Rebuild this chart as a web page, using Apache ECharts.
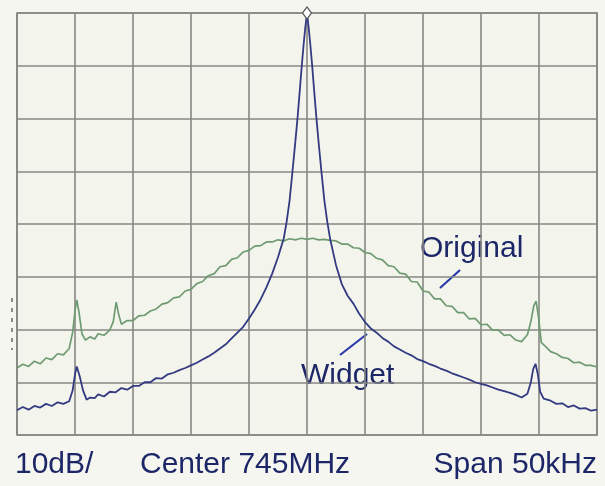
<!DOCTYPE html>
<html>
<head>
<meta charset="utf-8">
<style>
  html, body { margin: 0; padding: 0; background: #f5f6f0; }
  #chart { width: 605px; height: 486px; }
</style>
<script src="https://cdn.jsdelivr.net/npm/echarts@6/dist/echarts.min.js"></script>
</head>
<body>
<div id="chart"></div>
<script>
// Spectrum analyser screen: 10 dB per division, 5 kHz per division around 745 MHz.
const freqRange = [-25, 25];     // kHz offset from centre
const levelRange = [-80, 0];     // dB relative to reference level
const freqStep = 5;
const levelStep = 10;

// Trace labels and screen annotations
const labelOriginal = 'Original';
const labelWidget = 'Widget';
const footerScale = '10dB/';
const footerCenter = 'Center 745MHz';
const footerSpan = 'Span 50kHz';

// Original trace: [kHz offset, dB]
const originalTrace = [
  [-25, -67.3], [-24.5, -66.6], [-24, -67.0], [-23.5, -66.0], [-23, -66.5], [-22.5, -65.4],
  [-22, -65.7], [-21.5, -64.6], [-21, -64.8], [-20.5, -63.6], [-20.2, -60.5], [-20.0, -56.5],
  [-19.85, -54.4], [-19.65, -56.8], [-19.4, -60.8], [-19.1, -62.0], [-18.7, -61.4], [-18.3, -61.8],
  [-18, -60.8], [-17.5, -61.1], [-17, -60.1], [-16.7, -58.5], [-16.45, -54.8], [-16.25, -57.0],
  [-16.0, -59.0], [-15.5, -58.3], [-15, -58.3], [-14.5, -57.4], [-14, -57.3], [-13.5, -56.5],
  [-13, -56.1], [-12.5, -55.2], [-12, -54.9], [-11.5, -54.0], [-11, -53.8], [-10.5, -52.7],
  [-10, -52.4], [-9.5, -51.3], [-9, -50.9], [-8.5, -49.8], [-8, -49.4], [-7.5, -48.1],
  [-7, -47.9], [-6.5, -46.7], [-6, -46.4], [-5.5, -45.3], [-5, -45.0], [-4.5, -44.2],
  [-4, -44.1], [-3.5, -43.4], [-3, -43.4], [-2.5, -43.0], [-2, -43.2], [-1.5, -42.8],
  [-1, -43.0], [-0.5, -42.7], [0, -42.9], [0.5, -42.7], [1, -43.0], [1.5, -42.9],
  [2, -43.1], [2.5, -43.2], [3, -43.8], [3.5, -43.8], [4, -44.5], [4.5, -44.6],
  [5, -45.4], [5.5, -45.6], [6, -46.5], [6.5, -46.8], [7, -47.9], [7.5, -48.1],
  [8, -49.3], [8.5, -49.5], [9, -50.9], [9.5, -51.0], [10, -52.7], [10.5, -52.9],
  [11, -54.2], [11.5, -54.2], [12, -55.5], [12.5, -55.6], [13, -56.8], [13.5, -56.8],
  [14, -58.0], [14.5, -57.9], [15, -59.1], [15.5, -59.0], [16, -60.1], [16.5, -60.1],
  [17, -61.1], [17.5, -61.0], [18, -62.0], [18.5, -62.3], [19.0, -61.0], [19.3, -58.5],
  [19.55, -55.5], [19.75, -54.6], [19.95, -57.5], [20.2, -62.5], [20.6, -63.3], [21, -64.2],
  [21.5, -64.6], [22, -65.3], [22.5, -65.5], [23, -66.3], [23.5, -66.2], [24, -66.8],
  [24.5, -66.8], [25, -67.1]
];

// Widget trace: [kHz offset, dB]
const widgetTrace = [
  [-25, -75.3], [-24.5, -74.7], [-24, -75.2], [-23.5, -74.5], [-23, -74.8], [-22.5, -74.1],
  [-22, -74.5], [-21.5, -73.8], [-21, -74.1], [-20.5, -73.6], [-20.2, -71.5], [-20.0, -68.5],
  [-19.85, -67.0], [-19.6, -68.8], [-19.3, -71.6], [-19.0, -73.3], [-18.7, -72.9], [-18.3, -73.0],
  [-18, -72.3], [-17.5, -72.7], [-17, -71.8], [-16.5, -71.9], [-16, -71.1], [-15.5, -71.4],
  [-15, -70.7], [-14.5, -70.7], [-14, -70.0], [-13.5, -70.0], [-13, -69.2], [-12.5, -69.3],
  [-12, -68.5], [-11.5, -68.2], [-11, -67.7], [-10.5, -67.3], [-10, -66.8], [-9.5, -66.3],
  [-9, -65.7], [-8.5, -65.1], [-8, -64.4], [-7.5, -63.6], [-7, -62.8], [-6.5, -61.7],
  [-6, -60.6], [-5.5, -59.5], [-5, -57.9], [-4.5, -56.2], [-4, -54.3], [-3.5, -52.0],
  [-3, -49.4], [-2.5, -46.3], [-2, -42.7], [-1.75, -39.5], [-1.5, -35.5], [-1.25, -30.0],
  [-1.0, -24.3], [-0.8, -19.5], [-0.6, -14.1], [-0.45, -10.0], [-0.3, -6.2], [-0.15, -2.8],
  [0, 0],
  [0.15, -2.9], [0.3, -6.3], [0.45, -10.1], [0.6, -14.3], [0.8, -19.6], [1.0, -24.5],
  [1.25, -30.2], [1.5, -35.6], [1.75, -39.6], [2, -42.9], [2.5, -47.8], [3, -51.4],
  [3.5, -53.6], [4, -55.1], [4.5, -57.0], [5, -58.6], [5.5, -59.8], [6, -60.6],
  [6.5, -61.6], [7, -62.3], [7.5, -63.2], [8, -63.8], [8.5, -64.4], [9, -64.9],
  [9.5, -65.6], [10, -66.0], [10.5, -66.5], [11, -66.9], [11.5, -67.4], [12, -67.8],
  [12.5, -68.3], [13, -68.7], [13.5, -69.1], [14, -69.5], [14.5, -70.0], [15, -70.3],
  [15.5, -70.6], [16, -71.0], [16.5, -71.4], [17, -71.7], [17.5, -72.0], [18, -72.4],
  [18.5, -72.9], [19.0, -72.2], [19.3, -70.0], [19.5, -67.5], [19.7, -66.5], [19.9, -68.5],
  [20.1, -71.8], [20.4, -73.1], [21, -73.5], [21.5, -74.1], [22, -74.0], [22.5, -74.7],
  [23, -74.4], [23.5, -75.0], [24, -74.9], [24.5, -75.4], [25, -75.2]
];

const chart = echarts.init(document.getElementById('chart'), null, { renderer: 'canvas' });

const gridColor = '#878784';
const inkColor = '#1d2768';
const textFont = '"Liberation Sans", Arial, sans-serif';

chart.setOption({
  animation: false,
  backgroundColor: '#f5f6f0',
  grid: { left: 17, right: 8, top: 13, bottom: 51, show: true, backgroundColor: '#f3f5ec', borderColor: gridColor, borderWidth: 1.7 },
  xAxis: {
    type: 'value', min: freqRange[0], max: freqRange[1], interval: freqStep,
    axisLine: { show: false }, axisTick: { show: false }, axisLabel: { show: false },
    splitLine: { show: true, lineStyle: { color: gridColor, width: 1.6 } }
  },
  yAxis: {
    type: 'value', min: levelRange[0], max: levelRange[1], interval: levelStep,
    axisLine: { show: false }, axisTick: { show: false }, axisLabel: { show: false },
    splitLine: { show: true, lineStyle: { color: gridColor, width: 1.6 } }
  },
  series: [
    {
      name: labelOriginal, type: 'line', data: originalTrace, showSymbol: false, smooth: false,
      lineStyle: { color: '#6f9b73', width: 1.7 }, z: 2
    },
    {
      name: labelWidget, type: 'line', data: widgetTrace, showSymbol: false, smooth: false,
      lineStyle: { color: '#343a82', width: 1.8 }, z: 3,
      markPoint: {
        symbol: 'diamond', symbolSize: [9, 12], symbolOffset: [0, 0],
        label: { show: false },
        itemStyle: { color: '#ffffff', borderColor: '#555555', borderWidth: 1.3 },
        data: [{ type: 'max' }]
      }
    }
  ],
  graphic: [
    { type: 'text', left: 420, top: 234, style: { text: labelOriginal, font: '30px ' + textFont, fill: inkColor } },
    { type: 'line', shape: { x1: 460, y1: 270, x2: 440, y2: 288 }, style: { stroke: '#2b3aa8', lineWidth: 2.2 } },
    { type: 'text', left: 301, top: 361, style: { text: labelWidget, font: '30px ' + textFont, fill: inkColor } },
    { type: 'line', shape: { x1: 340, y1: 355, x2: 367, y2: 334 }, style: { stroke: '#2b3aa8', lineWidth: 2.2 } },
    { type: 'line', shape: { x1: 12, y1: 298, x2: 12, y2: 350 }, style: { stroke: '#6a6a6a', lineWidth: 1.5, lineDash: [4, 6] } },
    { type: 'text', left: 15, top: 450, style: { text: footerScale, font: '30px ' + textFont, fill: inkColor } },
    { type: 'text', left: 140, top: 450, style: { text: footerCenter, font: '30px ' + textFont, fill: inkColor } },
    { type: 'text', right: 8, top: 450, style: { text: footerSpan, font: '30px ' + textFont, fill: inkColor } }
  ]
});
</script>
</body>
</html>
